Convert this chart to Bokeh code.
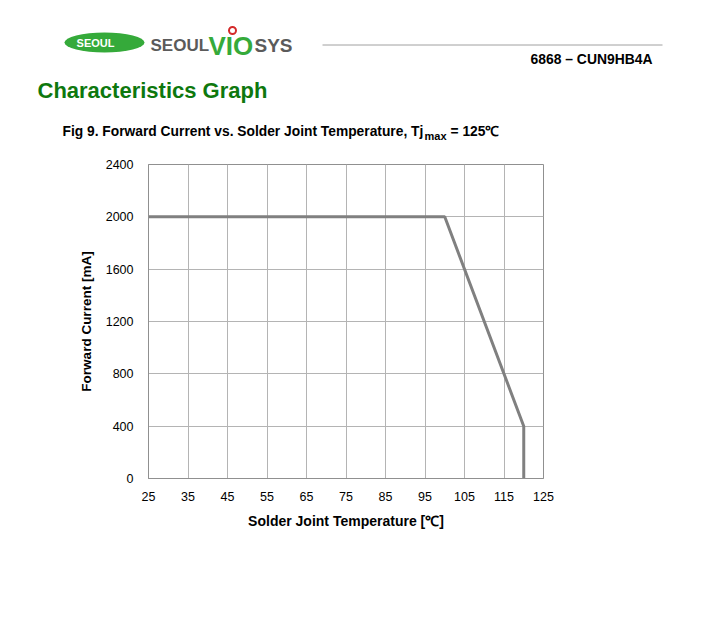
from bokeh.plotting import figure
from bokeh.layouts import column, row
from bokeh.models import Range1d, FixedTicker
from bokeh.core.properties import value
from bokeh.embed import file_html
from bokeh.resources import INLINE

# ---- data ----
temperature = [25, 100, 120, 120]
current = [2000, 2000, 400, 0]
x_ticks = [25, 35, 45, 55, 65, 75, 85, 95, 105, 115, 125]
y_ticks = [0, 400, 800, 1200, 1600, 2000, 2400]

FONT = value("Liberation Sans")
GRAY_TXT = "#5b5b5b"
GREEN = "#35aa3a"

# ---- header (page-pixel coordinates) ----
h = figure(width=708, height=150, output_backend="svg", toolbar_location=None,
           x_range=Range1d(0, 708), y_range=Range1d(150, 0), min_border=0)
h.axis.visible = False
h.grid.visible = False
h.outline_line_color = None


def txt(x, y, s, size, color="black", align="left"):
    h.text(x=[x], y=[y], text=[s], text_color=color, text_font=FONT, text_font_style="bold",
           text_font_size=size, text_align=align, text_baseline="middle")


h.ellipse(x=[104], y=[42], width=80, height=20, fill_color=GREEN, line_color=None)
txt(95, 42.5, "SEOUL", "11px", color="white", align="center")
txt(150, 45, "SEOUL", "17px", color=GRAY_TXT)
txt(208, 45, "VIO", "26px", color=GREEN)
txt(254, 45, "SYS", "19px", color=GRAY_TXT)
h.scatter(x=[232], y=[30], size=7, marker="circle", fill_color="white",
          line_color="#d42a2a", line_width=2)
h.line(x=[322, 662], y=[44.5, 44.5], line_color="#a0a0a0", line_width=1)
txt(652, 58, "6868 \u2013 CUN9HB4A", "13.9px", align="right")
txt(37, 90, "Characteristics Graph", "22px", color="#0e780e")
txt(62, 131, "Fig 9. Forward Current vs. Solder Joint Temperature, Tj", "13.8px")
txt(424, 135, "max", "11px")
txt(450, 131, "= 125\u2103", "13.8px")

# ---- main chart ----
p = figure(width=708, height=489, output_backend="svg", toolbar_location=None,
           x_range=Range1d(25, 125), y_range=Range1d(0, 2400),
           min_border_left=148, min_border_right=165, min_border_top=14, min_border_bottom=161)
p.outline_line_color = "#909090"
p.outline_line_width = 1

p.xaxis.ticker = FixedTicker(ticks=x_ticks)
p.yaxis.ticker = FixedTicker(ticks=y_ticks)
for ax in (p.xaxis, p.yaxis):
    ax.axis_line_color = "#909090"
    ax.major_tick_line_color = None
    ax.minor_tick_line_color = None
    ax.major_label_text_font = "Liberation Sans"
    ax.major_label_text_font_size = "12.5px"
    ax.major_label_text_color = "black"
    ax.axis_label_text_font = "Liberation Sans"
    ax.axis_label_text_font_style = "bold"
    ax.axis_label_text_color = "black"

p.xaxis.axis_label = "Solder Joint Temperature [\u2103]"
p.yaxis.axis_label = "Forward Current [mA]"
p.xaxis.axis_label_text_font_size = "14px"
p.yaxis.axis_label_text_font_size = "13.5px"
p.xaxis.major_label_standoff = 7
p.yaxis.major_label_standoff = 9
p.xaxis.axis_label_standoff = 9
p.yaxis.axis_label_standoff = 9

p.grid.grid_line_color = "#b4b4b4"
p.grid.grid_line_width = 1
p.grid.grid_line_alpha = 1

p.line(temperature, current, line_color="#808080", line_width=3)

layout = column(row(h), p, spacing=0)
open("out.html", "w").write(file_html(layout, INLINE))
